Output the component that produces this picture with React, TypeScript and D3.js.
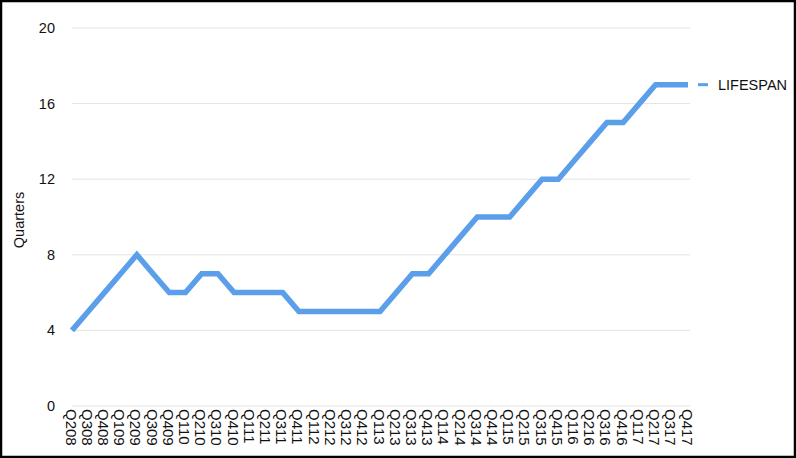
import * as d3 from 'd3';
import { useEffect, useRef } from 'react';

const quarters = [
  'Q208', 'Q308', 'Q408', 'Q109', 'Q209', 'Q309', 'Q409', 'Q110', 'Q210', 'Q310',
  'Q410', 'Q111', 'Q211', 'Q311', 'Q411', 'Q112', 'Q212', 'Q312', 'Q412', 'Q113',
  'Q213', 'Q313', 'Q413', 'Q114', 'Q214', 'Q314', 'Q414', 'Q115', 'Q215', 'Q315',
  'Q415', 'Q116', 'Q216', 'Q316', 'Q416', 'Q117', 'Q217', 'Q317', 'Q417',
];
const lifespan = [
  4, 5, 6, 7, 8, 7, 6, 6, 7, 7,
  6, 6, 6, 6, 5, 5, 5, 5, 5, 5,
  6, 7, 7, 8, 9, 10, 10, 10, 11, 12,
  12, 13, 14, 15, 15, 16, 17, 17, 17,
];
const yTicks = [0, 4, 8, 12, 16, 20];
const seriesName = 'LIFESPAN';

const W = 796;
const H = 458;

export default function App() {
  const ref = useRef<SVGSVGElement>(null);

  useEffect(() => {
    const svg = d3.select(ref.current);
    svg.selectAll('*').remove();

    const margin = { top: 28, right: 106, bottom: 52, left: 72 };
    const innerW = W - margin.left - margin.right;
    const innerH = H - margin.top - margin.bottom;
    const font = '"Liberation Sans", Arial, sans-serif';

    // frame
    svg
      .append('rect')
      .attr('x', 1)
      .attr('y', 1)
      .attr('width', W - 2)
      .attr('height', H - 2)
      .attr('fill', '#fff')
      .attr('stroke', '#000')
      .attr('stroke-width', 2.5);

    const g = svg.append('g').attr('transform', `translate(${margin.left},${margin.top})`);

    const x = d3.scalePoint<string>().domain(quarters).range([0, innerW - 2]);
    const y = d3.scaleLinear().domain([0, 20]).range([innerH, 0]);

    // gridlines
    g.append('g')
      .selectAll('line')
      .data(yTicks)
      .join('line')
      .attr('x1', 0)
      .attr('x2', innerW)
      .attr('y1', (d) => y(d))
      .attr('y2', (d) => y(d))
      .attr('stroke', '#e3e3e3')
      .attr('stroke-width', 1);

    // y tick labels
    g.append('g')
      .selectAll('text')
      .data(yTicks)
      .join('text')
      .attr('x', -17)
      .attr('y', (d) => y(d))
      .attr('dy', '0.35em')
      .attr('text-anchor', 'end')
      .style('font-family', font)
      .style('font-size', '14.5px')
      .attr('fill', '#111')
      .text((d) => d);

    // x tick labels, rotated
    g.append('g')
      .selectAll('text')
      .data(quarters)
      .join('text')
      .attr('transform', (d) => `translate(${(x(d) ?? 0) - 6.5},${innerH + 3}) rotate(90)`)
      .attr('text-anchor', 'start')
      .style('font-family', font)
      .style('font-size', '15px')
      .attr('fill', '#111')
      .text((d) => d);

    // y axis title
    svg
      .append('text')
      .attr('transform', `translate(24,${margin.top + innerH / 2 + 3}) rotate(-90)`)
      .attr('text-anchor', 'middle')
      .style('font-family', font)
      .style('font-size', '14.5px')
      .attr('fill', '#111')
      .text('Quarters');

    const line = d3
      .line<number>()
      .x((_d, i) => x(quarters[i]) ?? 0)
      .y((d) => y(d));

    g.append('path')
      .datum(lifespan)
      .attr('fill', 'none')
      .attr('stroke', '#5b9ee9')
      .attr('stroke-width', 5.5)
      .attr('stroke-linejoin', 'miter')
      .attr('d', line);

    // legend
    const ly = y(lifespan[lifespan.length - 1]);
    const lx = innerW + 8;
    g.append('line')
      .attr('x1', lx)
      .attr('x2', lx + 10)
      .attr('y1', ly)
      .attr('y2', ly)
      .attr('stroke', '#5b9ee9')
      .attr('stroke-width', 3);
    g.append('text')
      .attr('x', lx + 20)
      .attr('y', ly)
      .attr('dy', '0.35em')
      .style('font-family', font)
      .style('font-size', '14.5px')
      .attr('fill', '#111')
      .text(seriesName);
  }, []);

  return (
    <svg
      ref={ref}
      width={W}
      height={H}
      style={{ display: 'block', position: 'absolute', left: 0, top: 0 }}
    />
  );
}
